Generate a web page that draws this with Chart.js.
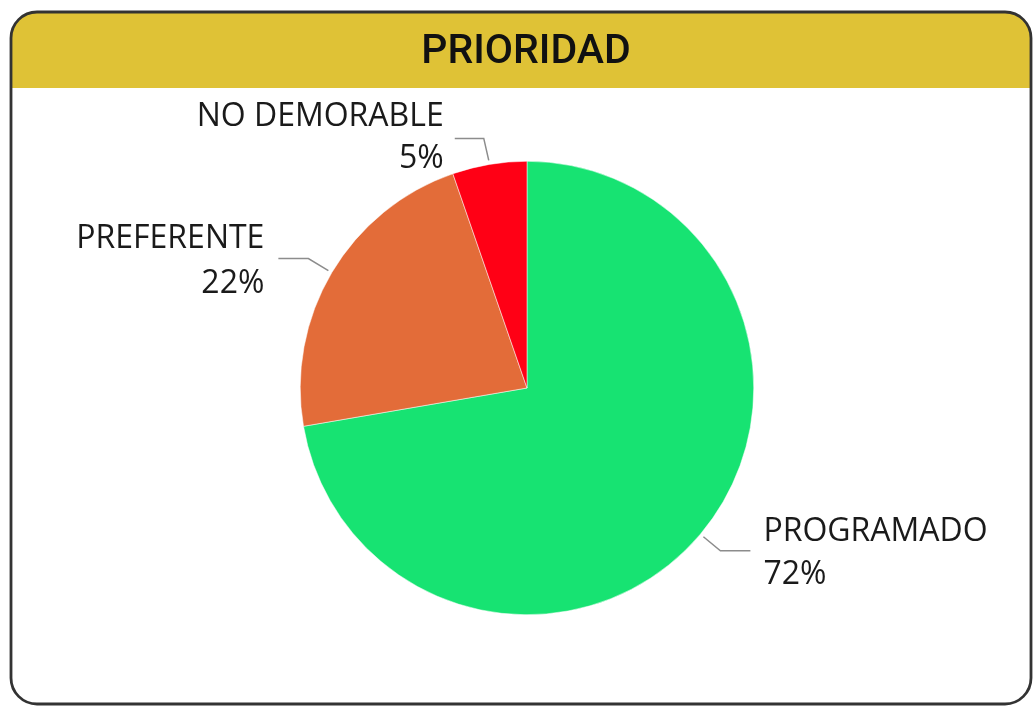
<!DOCTYPE html>
<html>
<head>
<meta charset="utf-8">
<script src="https://cdn.jsdelivr.net/npm/chart.js@4/dist/chart.umd.min.js"></script>
<style>
html,body{margin:0;padding:0;background:#fff;}
#wrap{width:1033px;height:706px;position:relative;}
</style>
</head>
<body>
<div id="wrap"><canvas id="c" width="1033" height="706"></canvas></div>
<script>
const title = "PRIORIDAD";
const categories = ["PROGRAMADO", "PREFERENTE", "NO DEMORABLE"];
const values = [72.3, 22.4, 5.3];
const colors = ["#17E372", "#E36C39", "#FF0015"];

// label layout relative to the arc edge at mid angle: elbow, line end, text x, text y lines, align
const labelLayout = [
  {elbow:[17,14], end:[47,14], tx:60, ty:[-5,38], align:"left"},
  {elbow:[-20,-12], end:[-50,-12], tx:-64, ty:[-32,13], align:"right"},
  {elbow:[-5,-22], end:[-34,-22], tx:-45, ty:[-44,-2], align:"right"}
];

const frame = {
  id:"frame",
  beforeDraw(chart){
    const ctx = chart.ctx;
    const x=11, y=12, w=1020, h=692, r=26;
    ctx.save();
    ctx.beginPath();
    ctx.roundRect(x,y,w,h,r);
    ctx.fillStyle="#fff";
    ctx.fill();
    ctx.save();
    ctx.clip();
    ctx.fillStyle="#DFC236";
    ctx.fillRect(x,y,w,76);
    ctx.restore();
    ctx.lineWidth=2.8;
    ctx.strokeStyle="#333";
    ctx.stroke();
    ctx.fillStyle="#111";
    ctx.font="500 41px Roboto";
    ctx.textAlign="center";
    ctx.textBaseline="middle";
    ctx.fillText(title, 526, 53);
    ctx.restore();
  },
  afterDatasetsDraw(chart){
    const ctx = chart.ctx;
    const meta = chart.getDatasetMeta(0);
    const total = values.reduce((a,b)=>a+b,0);
    ctx.save();
    meta.data.forEach((arc,i)=>{
      const mid = (arc.startAngle+arc.endAngle)/2;
      const rr = arc.outerRadius+4;
      const ax = arc.x+Math.cos(mid)*rr, ay = arc.y+Math.sin(mid)*rr;
      const L = labelLayout[i];
      ctx.beginPath();
      ctx.moveTo(ax,ay);
      ctx.lineTo(ax+L.elbow[0], ay+L.elbow[1]);
      ctx.lineTo(ax+L.end[0], ay+L.end[1]);
      ctx.strokeStyle="#8c8c8c";
      ctx.lineWidth=1.5;
      ctx.stroke();
      ctx.fillStyle="#1a1a1a";
      ctx.font="32px 'Open Sans'";
      ctx.textAlign=L.align;
      ctx.textBaseline="middle";
      ctx.fillText(categories[i], ax+L.tx, ay+L.ty[0]);
      ctx.fillText(Math.round(values[i]/total*100)+"%", ax+L.tx, ay+L.ty[1]);
    });
    ctx.restore();
  }
};

new Chart(document.getElementById("c"), {
  type:"pie",
  data:{labels:categories, datasets:[{data:values, backgroundColor:colors, borderColor:"#fff", borderWidth:0.5}]},
  options:{
    responsive:false,
    animation:false,
    layout:{padding:{left:127,right:106,top:161,bottom:91}},
    plugins:{legend:{display:false}, tooltip:{enabled:false}}
  },
  plugins:[frame]
});
</script>
</body>
</html>
